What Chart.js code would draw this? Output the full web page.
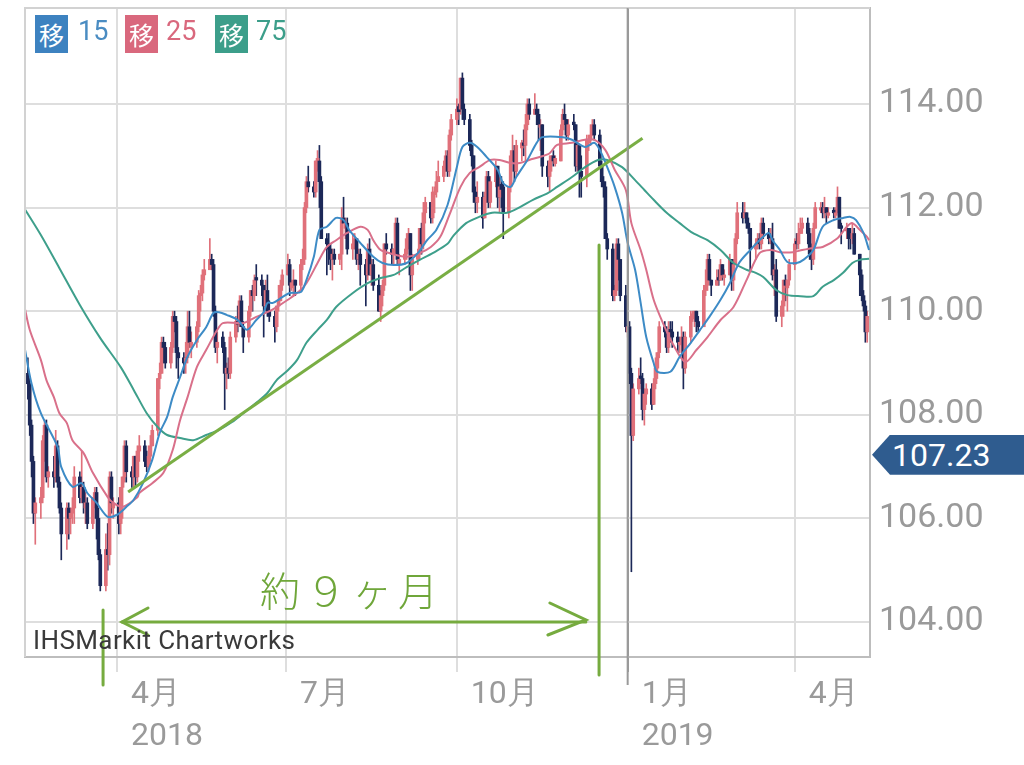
<!DOCTYPE html>
<html>
<head>
<meta charset="utf-8">
<script src="https://cdn.jsdelivr.net/npm/chart.js@4.4.1/dist/chart.umd.min.js"></script>
<style>
  html, body { margin: 0; padding: 0; background: #fff; }
  #wrap { position: relative; width: 1024px; height: 765px; overflow: hidden; }
  #chart { position: absolute; left: 0; top: 0; }
  .box { position: absolute; top: 15px; width: 33px; height: 38px; color: #fff;
         font: 25px "Noto Sans CJK JP", sans-serif; line-height: 38px; text-align: center; }
  .num { position: absolute; top: 15px; height: 38px; line-height: 38px;
         font: 27px Roboto, sans-serif; }
  #credit { position: absolute; left: 33px; top: 625px; font: 26px Roboto, sans-serif; color: #3a3a3a; letter-spacing: 0.4px; }
  #note { position: absolute; left: 260px; top: 560px; font: 300 40px "Noto Sans CJK JP", sans-serif;
          color: #6fa63a; letter-spacing: 6px; }
  #price { position: absolute; left: 872px; width: 152px; height: 40px; background: #2f5c8f;
           clip-path: polygon(0 50%, 18px 0, 100% 0, 100% 100%, 18px 100%);
           color: #fff; font: 32px Roboto, sans-serif; line-height: 40px; padding-left: 20px; box-sizing: border-box; }
</style>
</head>
<body>
<div id="wrap">
  <canvas id="chart" width="1024" height="765"></canvas>
  <div class="box" style="left:35px;background:#3d82c0">移</div><div class="num" style="left:78px;color:#4a8cc2">15</div>
  <div class="box" style="left:125px;background:#d9687d">移</div><div class="num" style="left:166px;color:#d9687d">25</div>
  <div class="box" style="left:215px;background:#3c9e8a">移</div><div class="num" style="left:256px;color:#3c9e8a">75</div>
  <div id="credit">IHSMarkit Chartworks</div>
  <div id="note">約９ヶ月</div>
  <div id="price">107.23</div>
</div>
<script>
// USD/JPY daily candles [open, high, low, close], Mon 12 Feb 2018 .. Fri 10 May 2019, one week per line
const candles = [
  [108.8,109.1,108.3,108.6],[108.6,108.7,107.6,107.8],[107.8,107.9,106.8,107.1],[107.1,107.2,105.9,106.1],[106.1,106.4,105.5,106.3],
  [106.3,106.6,106.0,106.4],[106.4,107.6,106.3,107.5],[107.5,107.9,107.1,107.8],[107.8,107.9,106.7,106.8],[106.8,107.0,106.6,106.9],
  [106.9,107.2,106.6,106.8],[106.8,107.7,106.7,107.4],[107.4,107.5,106.6,106.7],[106.7,106.8,106.1,106.2],[106.2,106.3,105.2,105.7],
  [105.7,106.3,105.4,106.2],[106.2,106.3,105.6,106.0],[106.0,106.2,105.7,106.1],[106.1,106.4,105.9,106.2],[106.2,107.0,105.9,106.8],
  [106.8,106.9,106.3,106.4],[106.4,107.3,106.3,106.6],[106.6,106.7,106.1,106.3],[106.2,106.5,105.9,106.3],[106.3,106.4,105.8,105.9],
  [105.9,106.4,105.8,106.4],[106.4,106.6,106.2,106.5],[106.5,106.6,105.6,106.0],[106.0,106.2,105.2,105.3],[105.3,105.4,104.6,104.7],
  [104.7,105.7,104.6,105.4],[105.4,105.9,105.0,105.3],[105.3,106.9,105.1,106.8],[106.8,106.9,106.1,106.3],[106.2,106.4,106.0,106.3],
  [106.3,106.4,105.7,105.9],[105.9,106.6,105.7,106.6],[106.6,106.8,106.0,106.8],[106.8,107.5,106.7,107.4],[107.4,107.5,106.7,106.9],
  [106.9,107.0,106.6,106.8],[106.8,107.2,106.6,107.2],[107.2,107.2,106.6,106.8],[106.8,107.4,106.7,107.3],[107.3,107.6,107.1,107.4],
  [107.4,107.5,107.0,107.1],[107.1,107.3,106.9,107.0],[107.0,107.4,106.9,107.2],[107.2,107.6,107.1,107.4],[107.4,107.8,107.4,107.7],
  [107.7,108.7,107.6,108.7],[108.7,109.0,108.5,108.8],[108.8,109.5,108.8,109.4],[109.4,109.5,109.0,109.3],[109.3,109.4,108.9,109.0],
  [109.0,109.4,108.9,109.3],[109.3,110.0,109.2,109.9],[109.9,110.0,109.6,109.8],[109.8,109.9,108.9,109.2],[109.2,109.3,108.7,109.1],
  [109.1,109.2,108.8,109.0],[109.0,109.4,108.8,109.1],[109.1,110.0,109.0,109.7],[109.7,110.0,109.3,109.4],[109.3,109.6,109.1,109.4],
  [109.4,109.8,109.3,109.7],[109.7,110.4,109.6,110.3],[110.3,110.5,110.0,110.35],[110.35,110.8,110.2,110.7],[110.7,111.0,110.6,110.8],
  [110.8,111.4,110.8,111.0],[111.0,111.1,110.8,110.9],[110.9,111.0,109.9,110.0],[110.0,110.1,109.2,109.3],[109.3,109.6,109.0,109.4],
  [109.5,109.6,109.2,109.3],[109.3,109.4,108.1,108.8],[108.8,109.0,108.5,108.9],[108.9,109.1,108.7,108.8],[108.8,109.6,108.7,109.5],
  [109.5,109.9,109.4,109.8],[109.8,110.1,109.6,109.75],[109.75,110.3,109.7,110.2],[110.2,110.3,109.7,109.7],[109.7,109.8,109.2,109.5],
  [109.5,110.1,109.4,110.0],[110.0,110.4,109.9,110.4],[110.4,110.5,110.0,110.3],[110.3,110.7,110.2,110.6],[110.65,110.9,110.3,110.6],
  [110.6,110.7,110.3,110.5],[110.5,110.5,109.5,110.1],[110.1,110.6,110.0,110.4],[110.4,110.7,109.9,110.0],[110.0,110.2,109.8,109.9],
  [109.9,110.0,109.4,109.7],[109.7,110.1,109.6,110.1],[110.1,110.5,110.0,110.2],[110.2,110.6,110.2,110.5],[110.5,110.8,110.4,110.7],
  [110.7,111.1,110.7,110.9],[110.9,111.0,110.3,110.5],[110.45,110.6,110.4,110.55],[110.5,110.8,110.3,110.6],[110.6,110.6,110.3,110.5],
  [110.5,111.0,110.4,110.9],[110.9,111.2,110.8,111.0],[111.0,112.1,110.9,112.0],[112.0,112.6,111.9,112.5],[112.5,112.8,112.3,112.4],
  [112.4,112.5,112.2,112.3],[112.3,112.9,112.2,112.9],[112.85,113.1,112.7,112.95],[112.9,113.2,112.0,112.5],[112.5,112.6,111.4,111.4],
  [111.4,111.5,110.7,111.3],[111.3,111.5,110.9,111.2],[111.2,111.3,110.8,111.0],[111.0,111.2,110.6,111.1],[111.1,111.2,110.9,111.0],
  [111.0,111.1,110.9,111.1],[111.1,112.0,110.8,111.8],[111.8,112.2,111.7,111.7],[111.6,111.8,111.4,111.7],[111.7,111.8,111.1,111.2],
  [111.2,111.5,111.0,111.3],[111.3,111.5,111.2,111.4],[111.4,111.4,110.9,111.0],[111.0,111.2,110.8,111.1],[111.1,111.2,110.5,110.9],
  [110.9,111.0,110.1,110.7],[110.7,111.3,110.6,111.2],[111.2,111.4,110.7,110.7],[110.7,111.0,110.5,110.9],[110.9,111.0,110.4,110.5],
  [110.5,110.7,110.0,110.0],[110.0,110.4,109.8,110.3],[110.3,110.6,110.1,110.5],[110.5,111.3,110.4,111.3],[111.3,111.5,111.1,111.2],
  [111.2,111.3,110.9,111.1],[111.1,111.2,110.9,111.2],[111.2,111.8,111.1,111.7],[111.7,111.8,110.9,111.0],[110.9,111.1,110.7,111.0],
  [111.0,111.2,110.9,111.1],[111.1,111.5,111.0,111.4],[111.4,111.6,111.2,111.5],[111.5,111.5,110.4,110.7],[110.7,111.1,110.4,111.0],
  [111.0,111.2,110.9,111.1],[111.1,111.6,111.0,111.6],[111.6,111.7,111.1,111.3],[111.3,112.1,111.2,111.9],[111.9,112.2,111.7,112.1],
  [112.1,112.1,111.7,111.8],[111.8,112.4,111.7,112.3],[112.25,112.4,111.9,112.3],[112.3,112.7,112.2,112.5],[112.5,112.9,112.5,112.6],
  [112.6,112.9,112.5,112.8],[112.8,113.1,112.7,113.0],[113.0,113.1,112.6,112.7],[112.7,113.5,112.6,113.4],[113.4,113.8,113.3,113.7],
  [113.7,114.1,113.6,113.9],[113.95,114.0,113.6,113.85],[113.9,114.5,113.8,114.5],[114.5,114.6,113.7,113.9],[113.9,114.0,113.6,113.7],
  [113.7,113.8,113.1,113.2],[113.2,113.3,112.8,113.0],[113.0,113.0,112.1,112.3],[112.3,112.4,111.9,112.1],[112.1,112.5,111.9,112.2],
  [112.2,112.3,111.6,111.8],[111.8,112.3,111.8,112.2],[112.2,112.7,112.1,112.6],[112.6,112.7,112.0,112.1],[112.1,112.6,112.0,112.5],
  [112.5,112.9,112.4,112.8],[112.8,112.8,112.0,112.2],[112.2,112.6,111.9,112.4],[112.45,112.6,112.0,112.35],[112.4,112.5,111.4,111.9],
  [111.9,112.4,111.8,112.4],[112.4,113.1,112.3,113.0],[113.0,113.4,112.9,113.1],[113.1,113.2,112.5,112.7],[112.7,113.3,112.6,113.2],
  [113.15,113.3,112.9,113.25],[113.25,113.5,113.0,113.2],[113.2,113.8,112.9,113.6],[113.6,114.1,113.5,114.0],[114.0,114.1,113.7,113.8],
  [113.8,114.2,113.8,113.9],[113.9,114.0,113.6,113.8],[113.8,113.9,113.3,113.6],[113.55,113.7,113.1,113.6],[113.6,113.6,112.6,112.8],
  [112.8,112.9,112.4,112.6],[112.6,113.0,112.3,112.9],[112.9,113.0,112.7,113.0],[113.0,113.1,112.8,112.9],[112.85,113.0,112.8,112.95],
  [112.9,113.6,112.9,113.5],[113.5,113.9,113.4,113.8],[113.8,114.0,113.6,113.7],[113.7,113.7,113.3,113.4],[113.4,113.7,113.3,113.6],
  [113.65,113.8,113.5,113.6],[113.6,113.6,112.7,112.8],[112.8,113.3,112.7,113.2],[113.2,113.2,112.2,112.7],[112.7,113.0,112.2,112.6],
  [112.6,113.4,112.4,113.3],[113.25,113.4,113.1,113.3],[113.3,113.6,113.2,113.4],[113.4,113.7,113.4,113.6],[113.6,113.7,113.3,113.4],
  [113.4,113.5,112.8,112.8],[112.8,112.9,112.4,112.5],[112.5,112.6,112.2,112.4],[112.4,112.5,111.4,111.4],[111.4,111.5,111.0,111.2],
  [111.2,111.3,110.2,110.3],[110.3,110.5,110.2,110.4],[110.4,111.4,110.3,111.3],[111.3,111.4,110.6,111.0],[111.0,111.0,110.2,110.3],
  [110.3,110.5,109.6,109.7],[109.6,109.8,109.5,109.7],[109.7,109.8,108.6,108.8],[108.8,108.9,104.97,107.6],[107.6,108.6,107.5,108.5],
  [108.5,108.9,108.4,108.7],[108.75,109.1,108.6,108.7],[108.7,108.8,107.9,108.1],[108.1,108.5,107.8,108.4],[108.4,108.6,108.2,108.5],
  [108.5,108.6,108.1,108.2],[108.2,108.7,108.2,108.6],[108.6,109.1,108.5,108.9],[108.9,109.2,108.7,109.2],[109.2,109.8,109.1,109.7],
  [109.7,109.8,109.5,109.6],[109.6,109.7,109.2,109.3],[109.3,109.8,109.2,109.6],[109.65,109.8,109.4,109.6],[109.6,109.8,109.3,109.5],
  [109.5,109.6,109.2,109.4],[109.35,109.5,109.2,109.4],[109.4,109.7,109.2,109.5],[109.5,109.6,108.5,108.9],[108.9,109.6,108.8,109.5],
  [109.5,110.0,109.4,109.9],[109.85,110.0,109.8,109.95],[109.9,110.0,109.7,110.0],[110.0,110.0,109.6,109.8],[109.8,109.9,109.6,109.7],
  [109.7,110.5,109.7,110.4],[110.4,110.8,110.3,110.5],[110.5,111.1,110.4,111.0],[111.0,111.1,110.6,110.6],[110.6,110.6,110.3,110.5],
  [110.5,110.8,110.5,110.6],[110.65,110.8,110.5,110.6],[110.6,111.0,110.6,110.9],[110.9,110.9,110.6,110.7],[110.65,110.8,110.5,110.7],
  [110.7,111.1,110.7,111.0],[111.0,111.0,110.4,110.6],[110.6,111.0,110.4,110.9],[110.9,111.5,110.9,111.4],[111.4,112.1,111.3,111.9],
  [111.9,112.1,111.7,111.8],[111.8,112.1,111.8,111.9],[111.9,111.9,111.6,111.7],[111.7,111.8,111.5,111.6],[111.6,111.6,110.8,111.2],
  [111.2,111.4,111.0,111.3],[111.3,111.5,111.2,111.4],[111.4,111.5,111.2,111.3],[111.3,111.8,111.2,111.7],[111.7,111.8,111.4,111.5],
  [111.5,111.6,111.3,111.4],[111.35,111.6,111.3,111.4],[111.4,111.7,110.6,110.7],[110.7,110.9,110.3,110.8],[110.8,111.0,109.8,109.9],
  [109.9,110.2,109.7,110.1],[110.1,110.6,109.9,110.6],[110.6,110.7,110.2,110.5],[110.45,110.6,110.0,110.6],[110.6,111.0,110.5,110.9],
  [110.9,111.4,110.8,111.3],[111.35,111.5,111.2,111.3],[111.3,111.7,111.2,111.5],[111.5,111.8,111.5,111.6],[111.6,111.8,111.5,111.7],
  [111.7,111.8,111.3,111.5],[111.5,111.6,111.0,111.1],[111.1,111.3,110.8,111.0],[111.0,111.7,110.9,111.6],[111.6,112.1,111.6,112.0],
  [111.95,112.1,111.9,112.0],[112.0,112.1,111.8,111.9],[111.9,112.2,111.8,112.0],[112.0,112.0,111.7,111.9],[111.85,112.0,111.8,111.9],
  [111.95,112.0,111.8,111.9],[111.85,112.0,111.8,111.9],[111.9,112.4,111.9,112.2],[112.2,112.2,111.6,111.6],[111.65,111.7,111.3,111.6],
  [111.55,111.7,111.4,111.6],[111.6,111.6,111.2,111.4],[111.45,111.6,111.2,111.4],[111.4,111.7,111.3,111.5],[111.5,111.6,111.1,111.1],
  [111.1,111.1,110.3,110.7],[110.7,110.8,110.2,110.3],[110.3,110.4,110.0,110.1],[110.1,110.2,109.4,109.6],[109.6,110.0,109.4,109.9]
];

// moving averages: [day since 1 Apr 2018, value]
const ma15 = [[-50,109.35],[-46,108.6],[-41,108.03],[-32,107.38],[-30,106.99],[-24,106.61],[-19,106.68],[-16,106.49],[-11,106.30],[-5,106.03],[0,106.07],[5,106.22],[9,106.36],[14,106.68],[19,107.13],[23,107.65],[27,107.96],[30,108.34],[34,108.73],[38,109.12],[43,109.44],[48,109.69],[52,109.97],[55,109.98],[59,109.93],[65,109.83],[70,109.64],[75,109.83],[79,109.98],[81,110.16],[84,110.16],[89,110.27],[93,110.35],[99,110.37],[102,110.60],[106,111.05],[109,111.57],[113,111.63],[118,111.80],[122,111.76],[125,111.57],[131,111.32],[138,111.05],[143,110.93],[149,110.89],[156,110.93],[162,111.12],[167,111.37],[172,111.57],[178,112.05],[183,112.78],[186,113.17],[190,113.25],[194,113.17],[199,112.98],[205,112.73],[208,112.47],[212,112.40],[215,112.59],[221,112.92],[226,113.25],[229,113.36],[240,113.36],[245,113.31],[252,113.17],[257,113.25],[260,113.11],[264,112.78],[268,112.40],[272,111.90],[275,111.32],[279,110.80],[282,110.16],[285,109.50],[289,109.00],[291,108.83],[298,108.83],[303,109.12],[309,109.39],[314,109.64],[319,109.89],[325,110.22],[330,110.54],[335,110.93],[341,111.18],[346,111.37],[351,111.51],[353,111.37],[357,111.18],[361,110.95],[366,110.93],[370,111.00],[375,111.18],[380,111.63],[386,111.76],[391,111.80],[395,111.82],[398,111.76],[402,111.51],[405,111.18]];
const ma25 = [[-50,110.12],[-47,109.64],[-41,109.06],[-38,108.67],[-34,108.34],[-31,108.03],[-27,107.84],[-24,107.51],[-18,107.26],[-13,106.88],[-5,106.41],[-2,106.30],[3,106.22],[11,106.41],[12,106.49],[19,106.68],[25,106.88],[30,107.32],[34,107.90],[38,108.34],[43,108.92],[48,109.25],[54,109.64],[57,109.77],[65,109.77],[68,109.77],[75,109.89],[81,109.98],[86,110.08],[92,110.22],[97,110.35],[102,110.54],[108,110.93],[113,111.24],[118,111.37],[124,111.51],[131,111.63],[135,111.57],[138,111.37],[142,111.18],[147,111.12],[156,111.05],[163,111.12],[169,111.24],[174,111.43],[179,111.86],[185,112.40],[190,112.67],[195,112.78],[201,112.92],[206,112.92],[212,112.86],[217,112.86],[222,112.92],[228,112.98],[233,113.05],[237,113.21],[245,113.25],[252,113.31],[257,113.31],[263,113.11],[268,112.73],[274,112.34],[277,111.70],[282,111.18],[285,110.80],[289,110.22],[294,109.77],[299,109.39],[306,109.02],[312,109.25],[318,109.50],[325,109.83],[332,110.08],[339,110.60],[346,111.12],[352,111.18],[357,111.14],[364,111.14],[369,111.18],[375,111.22],[380,111.24],[388,111.41],[393,111.63],[396,111.70],[400,111.57],[404,111.43],[405,111.37]];
const ma75 = [[-50,111.99],[-41,111.47],[-31,110.83],[-20,110.12],[-9,109.48],[2,108.92],[9,108.48],[16,108.03],[22,107.76],[27,107.61],[34,107.55],[41,107.51],[48,107.61],[55,107.71],[62,107.86],[68,108.03],[75,108.23],[81,108.42],[86,108.67],[92,108.86],[97,109.06],[102,109.39],[108,109.64],[113,109.83],[118,110.08],[127,110.35],[135,110.54],[142,110.64],[149,110.70],[156,110.85],[163,110.99],[170,111.12],[178,111.30],[181,111.45],[188,111.70],[195,111.82],[202,111.90],[210,111.90],[217,112.01],[224,112.15],[232,112.28],[237,112.40],[245,112.59],[252,112.78],[259,112.92],[264,112.92],[272,112.78],[279,112.53],[284,112.34],[289,112.15],[296,111.90],[303,111.70],[310,111.51],[318,111.37],[325,111.18],[332,110.93],[339,110.80],[344,110.74],[348,110.66],[355,110.41],[361,110.31],[368,110.29],[375,110.29],[380,110.47],[386,110.60],[391,110.74],[396,110.93],[400,110.99],[405,111.01]];

// hand drawn trend line and 9-month span
const trendLine = [[6,106.51],[283,113.34]];
const spanStartDay = -7.5, spanEndDay = 259.6;
const arrowFromDay = 2.7, arrowToDay = 252.5, arrowValue = 104;

const tickDays = [0, 91, 183, 275, 365];
const tickLabels = [['4月', '2018'], '7月', '10月', ['1月', '2019'], '4月'];
const yearDay = 275;
const yTicks = [104, 106, 108, 110, 112, 114];
const lastPrice = 107.23;

const xMin = -49.54, xMax = 405.5;
const yMin = 103.324, yMax = 115.853;

const startDay = -48; // Mon 12 Feb 2018
const dayOf = i => startDay + Math.floor(i / 5) * 7 + (i % 5);

const UP = '#e0707a', DOWN = '#1c2858';
const candleColors = candles.map(c => c[3] >= c[0] ? UP : DOWN);

const handDrawn = {
  id: 'handDrawn',
  afterDraw(chart) {
    const { ctx, chartArea: a, scales: { x, y } } = chart;
    ctx.save();
    ctx.strokeStyle = '#d2d2d2';
    ctx.lineWidth = 2;
    ctx.beginPath();
    ctx.moveTo(a.left, a.bottom); ctx.lineTo(a.left, a.top); ctx.lineTo(a.right, a.top);
    ctx.stroke();

    const xj = x.getPixelForValue(yearDay);
    ctx.strokeStyle = '#9a9a9a';
    ctx.beginPath(); ctx.moveTo(xj, a.top); ctx.lineTo(xj, a.bottom + 28); ctx.stroke();

    ctx.strokeStyle = '#76ab3f';
    ctx.lineWidth = 3;
    ctx.lineCap = 'round';
    const xs = x.getPixelForValue(spanStartDay);
    const xe = x.getPixelForValue(spanEndDay);
    ctx.beginPath(); ctx.moveTo(xs, y.getPixelForValue(104.23)); ctx.lineTo(xs, a.bottom + 28); ctx.stroke();
    ctx.beginPath(); ctx.moveTo(xe, y.getPixelForValue(111.28)); ctx.lineTo(xe, a.bottom + 18); ctx.stroke();

    const ya = y.getPixelForValue(arrowValue);
    const x1 = x.getPixelForValue(arrowFromDay), x2 = x.getPixelForValue(arrowToDay);
    ctx.beginPath(); ctx.moveTo(x1, ya); ctx.lineTo(x2, ya); ctx.stroke();
    ctx.beginPath(); ctx.moveTo(x1 + 26, ya - 14); ctx.lineTo(x1, ya); ctx.lineTo(x1 + 26, ya + 13); ctx.stroke();
    ctx.beginPath(); ctx.moveTo(x2 - 36, ya - 19); ctx.lineTo(x2, ya - 2); ctx.lineTo(x2 - 38, ya + 13); ctx.stroke();
    ctx.restore();
  }
};

const lineSet = (data, color, order) => ({
  type: 'line',
  data: data.map(p => ({ x: p[0], y: p[1] })),
  borderColor: color,
  borderWidth: 2,
  pointRadius: 0,
  tension: 0.3,
  fill: false,
  order
});

const chart = new Chart(document.getElementById('chart'), {
  type: 'bar',
  data: {
    datasets: [
      {
        data: candles.map((c, i) => ({ x: dayOf(i), y: [c[2], c[1]] })),
        backgroundColor: candleColors,
        barThickness: 1,
        grouped: false,
        order: 6
      },
      {
        data: candles.map((c, i) => ({ x: dayOf(i), y: [c[0], c[3]] })),
        backgroundColor: candleColors,
        barThickness: 3,
        minBarLength: 1,
        grouped: false,
        order: 5
      },
      lineSet(ma75, '#3e9f8b', 4),
      lineSet(ma25, '#d9708a', 3),
      lineSet(ma15, '#3d8bc6', 2),
      {
        type: 'line',
        data: trendLine.map(p => ({ x: p[0], y: p[1] })),
        borderColor: '#79ae44',
        borderWidth: 3,
        pointRadius: 0,
        order: 1
      }
    ]
  },
  options: {
    responsive: false,
    animation: false,
    layout: { padding: { left: 25, top: 8, right: 0, bottom: 0 } },
    plugins: { legend: { display: false }, tooltip: { enabled: false } },
    scales: {
      x: {
        type: 'linear',
        min: xMin,
        max: xMax,
        offset: false,
        afterBuildTicks: s => { s.ticks = tickDays.map(v => ({ value: v })); },
        afterFit: s => { s.height = 108; s.paddingLeft = 0; s.paddingRight = 0; },
        grid: {
          offset: false,
          color: c => (c.tick && c.tick.value === yearDay) ? '#9a9a9a' : '#dedede',
          lineWidth: 2,
          tickLength: 15
        },
        border: { color: '#bdbdbd', width: 2 },
        ticks: {
          align: 'start',
          labelOffset: 14,
          padding: 2,
          maxRotation: 0,
          autoSkip: false,
          color: '#9a9a9a',
          font: { family: 'Roboto', size: 32, lineHeight: 1.32 },
          callback: (v, i) => tickLabels[i]
        }
      },
      y: {
        position: 'right',
        min: yMin,
        max: yMax,
        afterBuildTicks: s => { s.ticks = yTicks.map(v => ({ value: v })); },
        afterFit: s => { s.width = 154; s.paddingTop = 0; s.paddingBottom = 0; },
        grid: { color: '#dedede', lineWidth: 2, drawTicks: false },
        border: { color: '#bdbdbd', width: 2 },
        ticks: {
          padding: 9,
          color: '#9a9a9a',
          font: { family: 'Roboto', size: 34 },
          callback: v => v.toFixed(2)
        }
      }
    }
  },
  plugins: [handDrawn]
});

document.getElementById('price').style.top = (chart.scales.y.getPixelForValue(lastPrice) - 20) + 'px';
</script>
</body>
</html>
